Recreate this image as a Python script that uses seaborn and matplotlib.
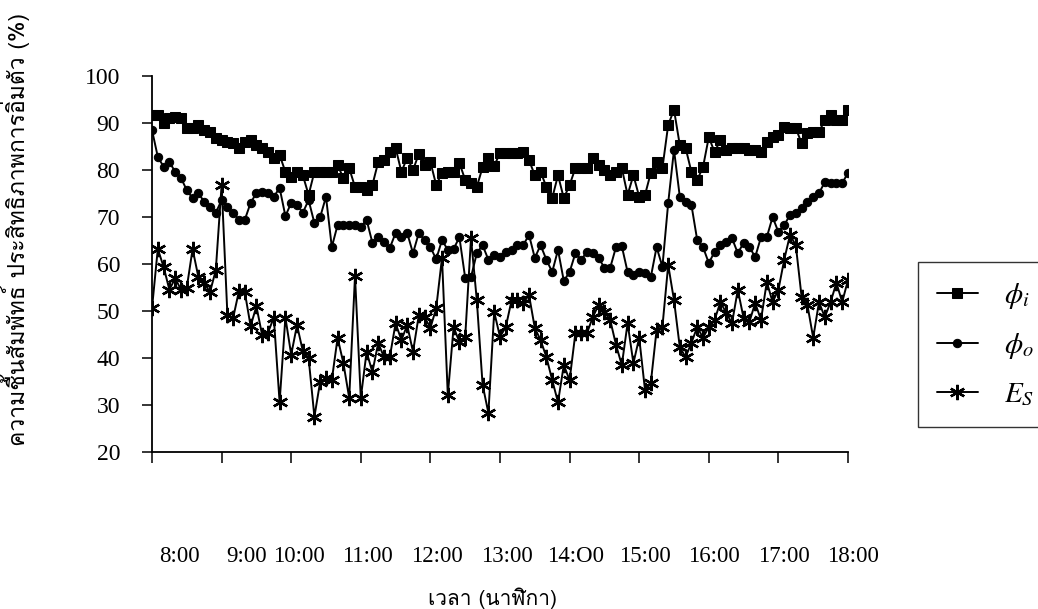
import numpy as np
import pandas as pd
import matplotlib
matplotlib.use("Agg")
import matplotlib.pyplot as plt
import seaborn as sns
from matplotlib import font_manager as fm
from matplotlib.ft2font import FT2Font
from matplotlib.transforms import ScaledTranslation

# ---------------- data ----------------
hour_ticks = list(range(8, 19))
hour_labels = ["8:00", "9:00", "10:00", "11:00", "12:00", "13:00",
               "14:O0", "15:00", "16:00", "17:00", "18:00"]
y_ticks = [20, 30, 40, 50, 60, 70, 80, 90, 100]
series_labels = [r"$\phi_i$", r"$\phi_o$", r"$E_S$"]

phi_i = [91.7, 91.7, 90, 91, 91.3, 91, 89, 89, 89.6, 88.5,
         88, 86.8, 86.4, 86, 85.7, 84.7, 86, 86.4, 85.3, 84.7,
         83.8, 82.6, 83.2, 79.6, 78.5, 79.6, 78.9, 74.7, 79.6, 79.6,
         79.6, 79.6, 81, 78.3, 80.4, 76.4, 76.4, 75.7, 76.8, 81.7,
         82.1, 83.8, 84.7, 79.6, 82.6, 80, 83.4, 81, 81.7, 76.8,
         79.4, 79.6, 79.6, 81.5, 77.9, 77.2, 76.4, 80.6, 82.6, 80.9,
         83.6, 83.6, 83.6, 83.6, 83.8, 82.1, 78.9, 79.6, 76.4, 74,
         78.9, 74, 76.8, 80.4, 80.4, 80.4, 82.6, 81, 80, 78.9,
         79.6, 80.4, 74.7, 78.9, 74.3, 74.7, 79.4, 81.7, 80.4, 89.6,
         92.8, 85.3, 84.7, 79.6, 77.9, 80.6, 87, 83.8, 86.4, 84.3,
         84.7, 84.7, 84.7, 84.3, 84.3, 83.8, 86, 87, 87.4, 89.1,
         88.9, 88.9, 85.7, 87.9, 88.1, 88.1, 90.6, 91.7, 90.6, 90.6,
         92.8]

phi_o = [88.5, 82.8, 80.7, 81.7, 79.6, 78.3, 75.7, 74, 75.1, 73.2,
         72.1, 70.9, 73.6, 72.1, 70.9, 69.4, 69.4, 73, 75.1, 75.3,
         75.1, 74.3, 76.2, 70.2, 73, 72.6, 70.9, 73.6, 68.7, 70,
         74.3, 63.6, 68.3, 68.3, 68.3, 68.3, 67.9, 69.4, 64.5, 65.7,
         64.7, 63.4, 66.6, 65.7, 66.6, 62.3, 66.6, 65.1, 63.6, 61,
         65.1, 63, 63.2, 65.7, 57, 57.2, 62.3, 64, 60.9, 61.9,
         61.5, 62.6, 63, 64, 64, 66.2, 61.3, 64, 60.9, 58.3,
         63, 56.4, 58.3, 62.3, 60.9, 62.6, 62.3, 61.3, 59.2, 59.2,
         63.6, 63.8, 58.3, 57.7, 58.3, 58, 57.2, 63.6, 59.4, 73,
         84.3, 74.3, 73.2, 72.6, 65.1, 63.6, 60.2, 62.6, 64, 64.7,
         65.5, 62.3, 64.5, 63.6, 61.5, 65.7, 65.7, 70, 66.8, 68.3,
         70.4, 70.9, 71.9, 73.2, 74.3, 75.1, 77.4, 77.2, 77.2, 77.2,
         79.4]

e_s = [50.6, 63.2, 59.4, 54.5, 57, 54.5, 55, 63.2, 57.2, 56,
       54, 58.7, 76.8, 49.2, 48.6, 54.3, 54, 46.8, 51, 44.8,
       45.4, 48.6, 30.6, 48.6, 40.7, 47, 41.5, 40, 27.5, 35,
       35.8, 35.3, 44.3, 38.9, 31.5, 57.4, 31.5, 41.3, 37, 43.2,
       40.2, 40.2, 47.4, 43.8, 47, 41.3, 49.1, 48.7, 46.4, 50.6,
       61.3, 32.1, 46.6, 43.4, 44.5, 65.5, 52.3, 34.3, 28.3, 49.8,
       44.5, 46.6, 52.3, 52.3, 51.7, 53.4, 46.4, 43.8, 40.2, 35.3,
       30.6, 38.5, 35.3, 45.3, 45.3, 45.3, 48.7, 51.3, 49.8, 48.1,
       42.8, 38.5, 47.4, 38.9, 44.3, 33.2, 34.7, 46, 46.6, 59.8,
       52.3, 42.3, 40.2, 43.2, 46.6, 44.3, 46.6, 48.1, 51.9, 49.6,
       47.4, 54.5, 48.5, 47.7, 51.7, 48.1, 56.2, 51.9, 54.5, 60.9,
       66.2, 64, 53, 51.3, 44.3, 51.9, 48.7, 51.9, 56, 51.9,
       56.6]

minutes = np.arange(len(phi_i)) * 5
hours = 8 + minutes / 60.0

# ---------------- style ----------------
sns.set_theme(style="ticks")
plt.rcParams["font.family"] = ["Liberation Serif", "DejaVu Serif"]
plt.rcParams["mathtext.fontset"] = "stix"


def thai_families():
    found = []
    for f in fm.fontManager.ttflist:
        try:
            cmap = FT2Font(f.fname).get_charmap()
        except Exception:
            continue
        if 0x0E01 in cmap and 0x0E2A in cmap and f.name not in found:
            found.append(f.name)
    return found


thai = thai_families()
thai_family = thai[:1] + ["DejaVu Sans"]

fig = plt.figure(figsize=(10.38, 6.09), dpi=100)
ax = fig.add_axes([152 / 1038, (609 - 452) / 609, 696 / 1038, 376 / 609])

df = pd.DataFrame({"hour": np.concatenate([hours, hours, hours]),
                   "value": phi_i + phi_o + e_s,
                   "series": ["i"] * len(phi_i) + ["o"] * len(phi_o) + ["s"] * len(e_s)})

sns.lineplot(data=df[df.series == "i"], x="hour", y="value", ax=ax, color="black",
             marker="s", markersize=7, markeredgecolor="black", linewidth=1.4,
             label=series_labels[0])
sns.lineplot(data=df[df.series == "o"], x="hour", y="value", ax=ax, color="black",
             marker="o", markersize=6, markeredgecolor="black", linewidth=1.4,
             label=series_labels[1])
sns.lineplot(data=df[df.series == "s"], x="hour", y="value", ax=ax, color="black",
             marker=(6, 2, 0), markersize=11, markeredgewidth=1.7,
             markeredgecolor="black", linewidth=1.4, label=series_labels[2])

ax.set_xlim(8, 18)
ax.set_ylim(20, 100)
ax.set_xticks(hour_ticks)
ax.set_xticklabels(hour_labels)
ax.set_yticks(y_ticks)
ax.set_xlabel("")
ax.set_ylabel("")
ax.tick_params(axis="y", direction="out", length=7, width=1.1, pad=16,
               labelsize=17, colors="black")
ax.tick_params(axis="x", direction="out", length=8, width=1.1, pad=60,
               labelsize=16.5, colors="black")
for side in ["top", "right"]:
    ax.spines[side].set_visible(False)
for side in ["left", "bottom"]:
    ax.spines[side].set_color("black")
    ax.spines[side].set_linewidth(1.3)
ax.grid(False)

label_dx_px = [27, 25, 8, 7, 7, 7, 6, 6, 5, 6, 5]
for lab, dx in zip(ax.get_xticklabels(), label_dx_px):
    lab.set_transform(lab.get_transform() + ScaledTranslation(dx / 100, 0, fig.dpi_scale_trans))

leg = ax.legend(loc="upper left", bbox_to_anchor=(918 / 1038, 1 - 262 / 609),
                bbox_transform=fig.transFigure, frameon=True, fancybox=False,
                edgecolor="black", fontsize=21, handlelength=1.4,
                handletextpad=0.9, labelspacing=0.7, borderpad=0.65,
                borderaxespad=0)
leg.get_frame().set_linewidth(1.0)
for t in leg.get_texts():
    t.set_color("black")

fig.text(16 / 1038, 1 - 230 / 609, "ความชื้นสัมพัทธ์ ประสิทธิภาพการอิ่มตัว (%)",
         rotation=90, ha="center", va="center", fontsize=16.5, family=thai_family,
         color="black")
fig.text(493 / 1038, 1 - 598 / 609, "เวลา (นาฬิกา)", ha="center", va="center",
         fontsize=15, family=thai_family, color="black")

fig.savefig("out.png", dpi=100, facecolor="white")
